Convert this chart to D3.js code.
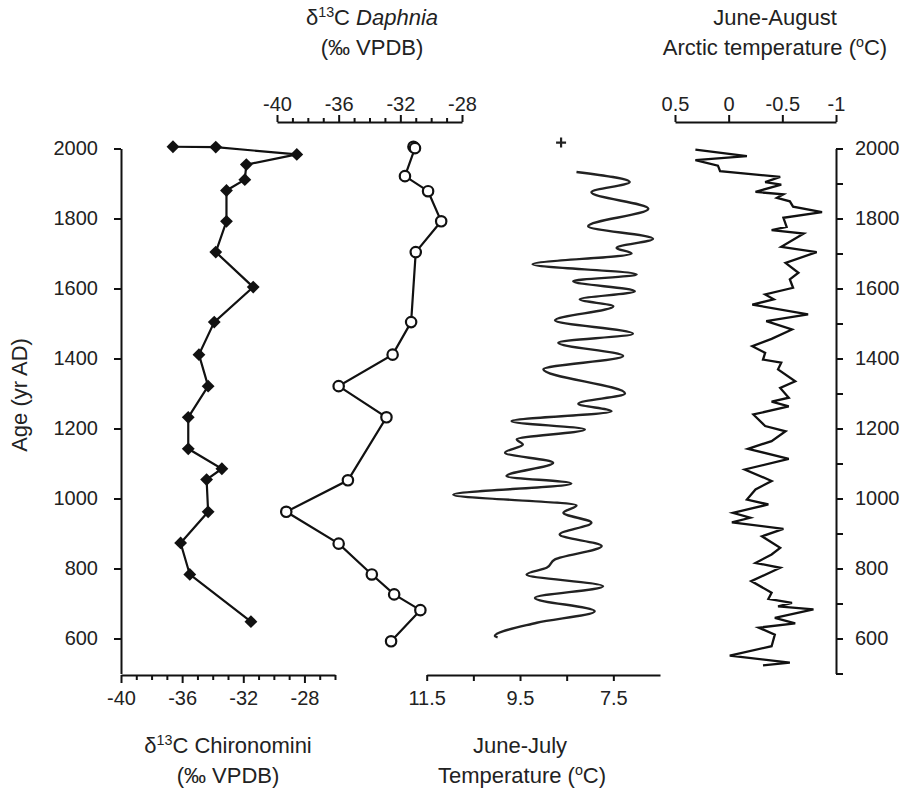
<!DOCTYPE html>
<html>
<head>
<meta charset="utf-8">
<script src="https://cdn.jsdelivr.net/npm/d3@7"></script>
<style>
  body { margin: 0; background: #fff; }
  svg text { font-family: Arial, "Liberation Sans", Helvetica, sans-serif; fill: #222; }
</style>
</head>
<body>
<svg id="chart" width="908" height="789"></svg>
<script>
// ---------------- data ----------------
const chiroYears = [2005, 2004, 1983, 1954, 1911, 1880, 1792, 1704, 1604, 1504, 1411, 1321, 1232, 1142, 1085, 1054, 962, 873, 783, 648];
const chiroVals  = [-36.6, -33.8, -28.5, -31.8, -31.9, -33.1, -33.1, -33.8, -31.35, -33.9, -34.9, -34.3, -35.6, -35.6, -33.4, -34.4, -34.3, -36.1, -35.5, -31.5];

const daphYears = [2005, 2001, 1921, 1878, 1792, 1704, 1504, 1411, 1321, 1232, 1052, 962, 871, 783, 726, 681, 592];
const daphVals  = [-31.15, -31.05, -31.7, -30.2, -29.35, -31.0, -31.3, -32.5, -36.0, -32.9, -35.4, -39.4, -36.0, -33.85, -32.4, -30.7, -32.6];

const tempYears = [1933,1904,1875,1828,1778,1742,1716,1700,1669,1640,1621,1592,1569,1549,1509,1471,1445,1407,1369,1300,1271,1249,1221,1197,1169,1154,1131,1102,1064,1043,1011,980,959,931,897,864,826,802,783,749,716,678,645,607,603];
const tempVals  = [8.29,7.15,7.97,6.75,8.04,6.65,7.43,7.11,9.23,7.0,8.36,7.04,8.22,7.5,8.75,7.08,8.68,7.29,9.0,7.25,8.25,7.54,9.68,8.11,9.57,9.44,9.82,8.79,9.79,8.4,10.93,8.29,8.57,7.97,8.65,7.75,8.75,8.93,9.36,7.72,9.18,7.9,9.14,10.04,9.98];
const tempModernYear = 2017;
const tempModernVal = 8.62;

const arcYears = [1997,1978,1967,1951,1935,1919,1904,1897,1876,1869,1859,1849,1834,1818,1802,1776,1767,1757,1719,1704,1673,1645,1626,1602,1583,1569,1554,1526,1507,1483,1456,1435,1416,1397,1388,1369,1335,1316,1288,1277,1263,1240,1207,1192,1164,1142,1113,1083,1050,1026,997,983,959,945,932,913,892,859,840,816,802,764,731,713,702,692,683,659,643,631,611,578,551,531,523];
const arcVals  = [0.31,-0.17,0.31,0.10,0.08,-0.48,-0.34,-0.49,-0.25,-0.51,-0.45,-0.57,-0.60,-0.87,-0.51,-0.54,-0.40,-0.70,-0.49,-0.82,-0.53,-0.65,-0.57,-0.60,-0.34,-0.42,-0.22,-0.74,-0.35,-0.59,-0.40,-0.22,-0.34,-0.32,-0.49,-0.46,-0.62,-0.48,-0.56,-0.40,-0.56,-0.23,-0.34,-0.53,-0.40,-0.18,-0.56,-0.15,-0.40,-0.25,-0.17,-0.37,-0.04,-0.20,-0.03,-0.51,-0.31,-0.48,-0.40,-0.25,-0.48,-0.21,-0.40,-0.37,-0.59,-0.46,-0.79,-0.43,-0.62,-0.28,-0.43,-0.40,-0.01,-0.57,-0.32];

const ageTicks = [600, 800, 1000, 1200, 1400, 1600, 1800, 2000];
const ageTicksRight = [500, 600, 700, 800, 900, 1000, 1100, 1200, 1300, 1400, 1500, 1600, 1700, 1800, 1900, 2000];
const isoTicks = [-40, -36, -32, -28];
const tempTicks = [11.5, 10.5, 9.5, 8.5, 7.5];
const tempLabels = [11.5, 9.5, 7.5];
const arcTicks = [0.5, 0, -0.5, -1];

// ---------------- scales ----------------
const svg = d3.select("#chart");
const ink = "#111";

const y = d3.scaleLinear().domain([500, 2000]).range([673.5, 148.5]);
const xChiro = d3.scaleLinear().domain([-40, -26]).range([121, 335]);
const xDaph = d3.scaleLinear().domain([-40, -28]).range([277, 462]);
const xTemp = d3.scaleLinear().domain([11.5, 6.5]).range([426.7, 660]);
const xArc = d3.scaleLinear().domain([0.5, -1]).range([675, 836]);

const fmtMinus = d => (d < 0 ? "-" + Math.abs(d) : String(d));
const TICK_FS = 20;

function styleAxis(g) {
  g.selectAll("path.domain").attr("stroke", ink).attr("stroke-width", 2);
  g.selectAll(".tick line").attr("stroke", ink).attr("stroke-width", 2);
  g.selectAll(".tick text").attr("font-size", TICK_FS).attr("fill", "#222")
    .attr("font-family", "Arial, 'Liberation Sans', sans-serif");
}

// left age axis
const gL = svg.append("g").attr("transform", "translate(121,0)")
  .call(d3.axisLeft(y).tickValues(ageTicks).tickSize(7).tickPadding(16).tickSizeOuter(0)
    .tickFormat(d3.format("d")));
styleAxis(gL);

// right age axis
const gR = svg.append("g").attr("transform", "translate(836,0)")
  .call(d3.axisRight(y).tickValues(ageTicksRight).tickSize(7).tickPadding(12).tickSizeOuter(0)
    .tickFormat(d => (d % 200 === 0 && d >= 600) ? String(d) : ""));
styleAxis(gR);

// bottom chironomini axis
const chiroTickVals = d3.range(-40, -25, 1);
const gC = svg.append("g").attr("transform", "translate(0,675)")
  .call(d3.axisBottom(xChiro).tickValues(chiroTickVals).tickSize(8).tickPadding(8).tickSizeOuter(0)
    .tickFormat(d => isoTicks.includes(d) ? fmtMinus(d) : ""));
styleAxis(gC);
gC.selectAll(".tick line").attr("y2", d => isoTicks.includes(d) ? 8 : 5);

// bottom temperature axis
const gT = svg.append("g").attr("transform", "translate(0,675)")
  .call(d3.axisBottom(xTemp).tickValues(tempTicks).tickSize(6).tickPadding(10).tickSizeOuter(0)
    .tickFormat(d => tempLabels.includes(d) ? d3.format(".1f")(d) : ""));
styleAxis(gT);

// top daphnia axis
const daphTickVals = d3.range(-40, -27, 1);
const gD = svg.append("g").attr("transform", "translate(0,122)")
  .call(d3.axisTop(xDaph).tickValues(daphTickVals).tickSize(7).tickPadding(4).tickSizeOuter(0)
    .tickFormat(d => isoTicks.includes(d) ? fmtMinus(d) : ""));
styleAxis(gD);
gD.selectAll(".tick line").attr("y2", d => isoTicks.includes(d) ? -7 : -4);

// top arctic axis
const gA = svg.append("g").attr("transform", "translate(0,122)")
  .call(d3.axisTop(xArc).tickValues(arcTicks).tickSize(7).tickPadding(4).tickSizeOuter(0)
    .tickFormat(d => fmtMinus(d)));
styleAxis(gA);

// ---------------- series ----------------
// Chironomini
const chiro = chiroYears.map((yr, i) => ({ yr, v: chiroVals[i] }));
svg.append("path").datum(chiro)
  .attr("fill", "none").attr("stroke", ink).attr("stroke-width", 2.2)
  .attr("d", d3.line().x(d => xChiro(d.v)).y(d => y(d.yr)));
svg.append("g").selectAll("path").data(chiro).join("path")
  .attr("transform", d => `translate(${xChiro(d.v)},${y(d.yr)})`)
  .attr("d", d3.symbol(d3.symbolDiamond2, 105)())
  .attr("fill", ink);

// Daphnia
const daph = daphYears.map((yr, i) => ({ yr, v: daphVals[i] }));
svg.append("path").datum(daph)
  .attr("fill", "none").attr("stroke", ink).attr("stroke-width", 2.2)
  .attr("d", d3.line().x(d => xDaph(d.v)).y(d => y(d.yr)));
svg.append("g").selectAll("circle").data(daph).join("circle")
  .attr("cx", d => xDaph(d.v)).attr("cy", d => y(d.yr)).attr("r", 5.2)
  .attr("fill", "#fff").attr("stroke", ink).attr("stroke-width", 2.2);

// June-July temperature
const temp = tempYears.map((yr, i) => ({ yr, v: tempVals[i] }));
svg.append("path").datum(temp)
  .attr("fill", "none").attr("stroke", "#222").attr("stroke-width", 2.4)
  .attr("d", d3.line().curve(d3.curveMonotoneY).x(d => xTemp(d.v)).y(d => y(d.yr)));
svg.append("path")
  .attr("transform", `translate(${xTemp(tempModernVal)},${y(tempModernYear)})`)
  .attr("fill", "none").attr("stroke", "#222").attr("stroke-width", 2.2)
  .attr("d", "M-5,0H5M0,-5V5");

// Arctic temperature
const arc = arcYears.map((yr, i) => ({ yr, v: arcVals[i] }));
svg.append("path").datum(arc)
  .attr("fill", "none").attr("stroke", ink).attr("stroke-width", 2.3)
  .attr("stroke-linejoin", "miter")
  .attr("d", d3.line().x(d => xArc(d.v)).y(d => y(d.yr)));

// ---------------- titles ----------------
function title(x, yPos, parts, size = 22) {
  const t = svg.append("text").attr("x", x).attr("y", yPos)
    .attr("text-anchor", "middle").attr("font-size", size);
  parts.forEach(p => {
    const ts = t.append("tspan").text(p.t);
    if (p.sup) ts.attr("font-size", size * 0.65).attr("baseline-shift", "super");
    if (p.it) ts.attr("font-style", "italic");
  });
  return t;
}
title(372, 25, [{ t: "δ" }, { t: "13", sup: true }, { t: "C " }, { t: "Daphnia", it: true }]);
title(372, 55, [{ t: "(‰ VPDB)" }]);
title(775, 25, [{ t: "June-August" }]);
title(775, 55, [{ t: "Arctic temperature (" }, { t: "o", sup: true }, { t: "C)" }]);
title(228, 753, [{ t: "δ" }, { t: "13", sup: true }, { t: "C Chironomini" }]);
title(228, 783, [{ t: "(‰ VPDB)" }]);
title(520, 753, [{ t: "June-July" }]);
title(522, 783, [{ t: "Temperature (" }, { t: "o", sup: true }, { t: "C)" }]);

svg.append("text")
  .attr("transform", "translate(27,395) rotate(-90)")
  .attr("text-anchor", "middle").attr("font-size", 22)
  .text("Age (yr AD)");
</script>
</body>
</html>
